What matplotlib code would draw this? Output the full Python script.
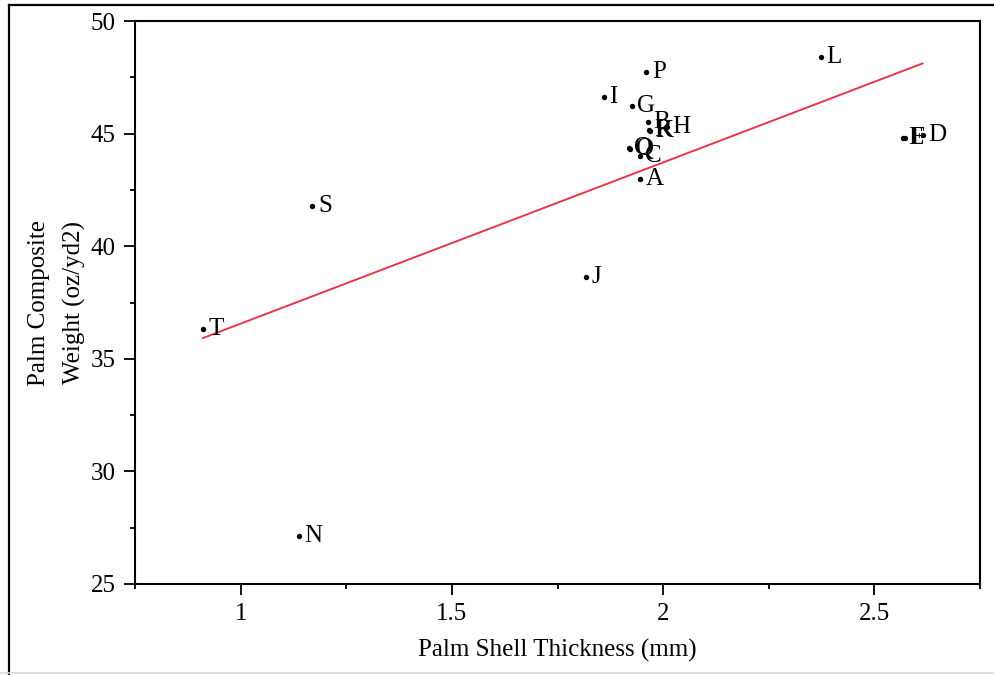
import matplotlib
matplotlib.use("Agg")
import matplotlib.pyplot as plt
from matplotlib.lines import Line2D
import numpy as np

plt.rcParams['font.family'] = ['Liberation Serif', 'DejaVu Serif']

# Sample identifiers and measurements
labels = ['A', 'B', 'C', 'D', 'E', 'F', 'G', 'H', 'I', 'J',
          'K', 'L', 'N', 'O', 'P', 'Q', 'R', 'S', 'T']
thickness = [1.945, 1.964, 1.945, 2.614, 2.567, 2.572, 1.926, 2.009, 1.860, 1.818,
             1.968, 2.373, 1.137, 1.919, 1.960, 1.922, 1.966, 1.170, 0.911]
weight = [42.97, 45.53, 44.00, 44.94, 44.80, 44.80, 46.23, 45.29, 46.63, 38.63,
          45.12, 48.40, 27.13, 44.35, 47.74, 44.33, 45.15, 41.79, 36.32]

# Linear trend: weight = slope * thickness + intercept
trend_slope = 7.16
trend_intercept = 29.40

x_ticks = [1, 1.5, 2, 2.5]
x_tick_labels = ['1', '1.5', '2', '2.5']
y_ticks = [25, 30, 35, 40, 45, 50]

fig = plt.figure(figsize=(9.94, 6.75), dpi=100)
ax = fig.add_axes([135 / 994, 1 - 584 / 675, (980 - 135) / 994, (584 - 21) / 675])

x = np.array(thickness)
y = np.array(weight)
ax.scatter(x, y, s=15, color='black', zorder=3, linewidths=0)
for lab, xi, yi in zip(labels, x, y):
    ax.annotate(lab, (xi, yi), xytext=(4, 0), textcoords='offset points',
                va='center', ha='left', fontsize=18, zorder=4)

xs = np.array([x.min(), x.max()])
ax.plot(xs, trend_slope * xs + trend_intercept, color='#e8364a', lw=1.4, zorder=2)

ax.set_xlim(0.75, 2.75)
ax.set_ylim(25, 50)
ax.set_xticks(x_ticks)
ax.set_xticklabels(x_tick_labels)
ax.set_yticks(y_ticks)
ax.set_xticks(np.arange(0.75, 2.751, 0.25), minor=True)
ax.set_yticks(np.arange(25, 50.01, 2.5), minor=True)
ax.tick_params(axis='both', which='major', direction='out', length=8, width=1.3,
               labelsize=18, pad=6, color='black')
ax.tick_params(axis='both', which='minor', direction='out', length=3.8, width=1.3)
for sp in ax.spines.values():
    sp.set_linewidth(1.5)

ax.set_xlabel('Palm Shell Thickness (mm)', fontsize=18, labelpad=10)
ax.set_ylabel('Palm Composite\nWeight (oz/yd2)', fontsize=18, labelpad=3,
              linespacing=1.75)

# Outer frame around the figure
fig.add_artist(Line2D([9 / 994, 9 / 994], [0, 1 - 5 / 675], transform=fig.transFigure,
                      color='black', lw=1.6))
fig.add_artist(Line2D([9 / 994, 993 / 994], [1 - 5 / 675, 1 - 5 / 675],
                      transform=fig.transFigure, color='black', lw=1.6))
fig.add_artist(Line2D([0, 1], [1 - 673 / 675, 1 - 673 / 675], transform=fig.transFigure,
                      color='#d8d8d8', lw=1.2))

fig.savefig('out.png', dpi=100)
